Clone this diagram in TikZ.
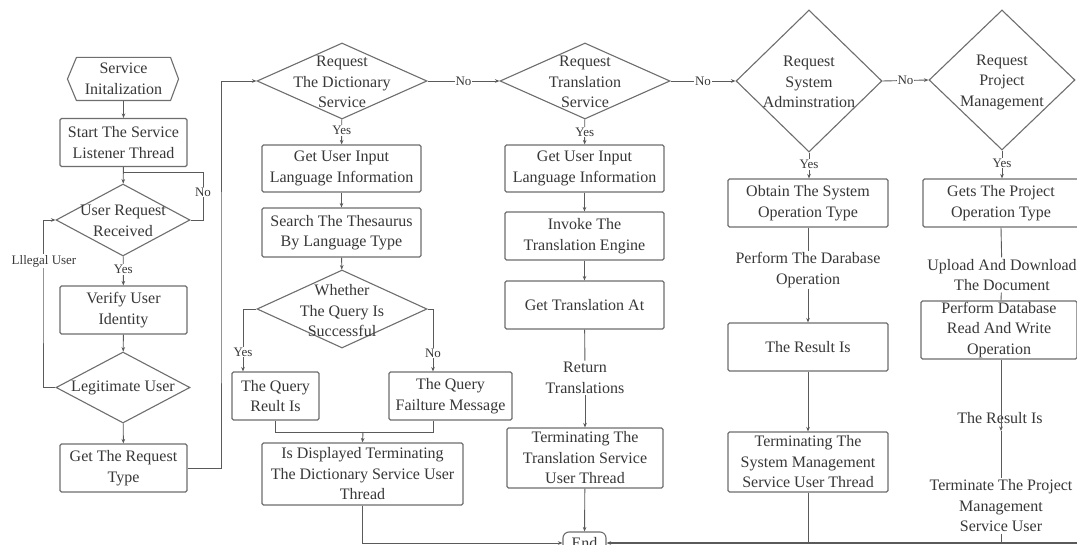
\documentclass[tikz,border=0pt]{standalone}
\usepackage{fontspec}
\setmainfont{Liberation Serif}
\usetikzlibrary{shapes.geometric,arrows.meta}

\definecolor{inkline}{HTML}{5A5A5A}
\definecolor{inkbox}{HTML}{6E6E6E}
\definecolor{inktext}{HTML}{383838}

\tikzset{
  ln/.style={draw=inkline, line width=0.9pt},
  arr/.style={ln, -{Stealth[length=4.5pt,width=3.6pt]}},
  box/.style={draw=inkbox, line width=1.1pt, rounded corners=1.5pt, align=center,
              inner sep=0pt, text=inktext},
  dia/.style={diamond, draw=inkbox, line width=1.1pt, inner sep=0pt},
  txt/.style={align=center, text=inktext, inner sep=1.5pt},
  lbl/.style={font=\fontsize{13pt}{15pt}\selectfont, fill=white, inner sep=1pt, text=inktext},
}

\begin{document}
\begin{tikzpicture}[x=1pt, y=-1pt, font=\fontsize{16pt}{20.5pt}\selectfont]
\useasboundingbox (0,0) rectangle (1077,545);
\clip (0,0) rectangle (1077,545);
\fill[white] (0,0) rectangle (1077,545);

% ---------- column 1: start-up and user check ----------
\node[box, draw=none, minimum width=93pt, minimum height=42pt] (init) at (123.5,79) {Service\\Initalization};
\draw[draw=inkbox, line width=1.1pt, line join=round]
  (init.north west) -- (init.north east) -- ([xshift=8pt]init.east) -- (init.south east)
  -- (init.south west) -- ([xshift=-9pt]init.west) -- cycle;
\node[box, minimum width=127pt, minimum height=48pt] (start) at (123.5,142.5) {Start The Service\\Listener Thread};
\node[dia, minimum width=134pt, minimum height=72pt] (ur) at (123,220) {};
\node[txt] (urt) at (123,221) {User Request\\Received};
\node[box, minimum width=127pt, minimum height=48pt] (verify) at (123.5,310) {Verify User\\Identity};
\node[dia, minimum width=134pt, minimum height=71pt] (legit) at (123,387.5) {};
\node[txt] (legitt) at (123,387.5) {Legitimate User};
\node[box, minimum width=127pt, minimum height=48pt] (getreq) at (123.5,468) {Get The Request\\Type};

% ---------- column 2: dictionary service ----------
\node[dia, minimum width=170pt, minimum height=76pt] (dict) at (342,81) {};
\node[txt] (dictt) at (342,82) {Request\\The Dictionary\\Service};
\node[box, minimum width=159pt, minimum height=47pt] (ui1) at (341.5,168.5) {Get User Input\\Language Information};
\node[box, minimum width=159pt, minimum height=49pt] (search) at (341.5,232.5) {Search The Thesaurus\\By Language Type};
\node[dia, minimum width=170pt, minimum height=78pt] (query) at (342,309) {};
\node[txt] (queryt) at (342,311) {Whether\\The Query Is\\Successful};
\node[box, minimum width=87pt, minimum height=48pt] (qres) at (275.5,396) {The Query\\Reult Is};
\node[box, minimum width=123pt, minimum height=48pt] (qfail) at (450.5,396) {The Query\\Failture Message};
\node[box, minimum width=201pt, minimum height=62pt] (disp) at (362.5,474) {Is Displayed Terminating\\The Dictionary Service User\\Thread};

% ---------- column 3: translation service ----------
\node[dia, minimum width=170pt, minimum height=76pt] (trans) at (585,81) {};
\node[txt] (transt) at (585,82) {Request\\Translation\\Service};
\node[box, minimum width=159pt, minimum height=47pt] (ui2) at (584.5,168.5) {Get User Input\\Language Information};
\node[box, minimum width=159pt, minimum height=48pt] (invoke) at (584.5,236) {Invoke The\\Translation Engine};
\node[box, minimum width=159pt, minimum height=48pt] (getta) at (584.5,305) {Get Translation At};
\node[txt] (rettxt) at (585,378) {Return\\Translations};
\node[box, minimum width=156pt, minimum height=60pt] (termtr) at (585,458) {Terminating The\\Translation Service\\User Thread};
\node[box, rounded corners=6pt, minimum width=43pt, minimum height=22pt] (end) at (584.5,543) {End};

% ---------- column 4: system administration ----------
\node[dia, minimum width=146pt, minimum height=142pt] (sys) at (809,81) {};
\node[txt] (syst) at (809,82) {Request\\System\\Adminstration};
\node[box, minimum width=160pt, minimum height=48pt] (obtain) at (808,203) {Obtain The System\\Operation Type};
\node[txt] (perfdb) at (808,270) {Perform The Darabase\\Operation};
\node[box, minimum width=160pt, minimum height=48pt] (res4) at (808,347) {The Result Is};
\node[box, minimum width=160pt, minimum height=60pt] (termsys) at (808,462) {Terminating The\\System Management\\Service User Thread};

% ---------- column 5: project management ----------
\node[dia, minimum width=146pt, minimum height=140pt] (proj) at (1002,80) {};
\node[txt] (projt) at (1002,82) {Request\\Project\\Management};
\node[box, minimum width=156pt, minimum height=48pt] (gets) at (1001,203) {Gets The Project\\Operation Type};
\node[txt] (upload) at (1002,275) {Upload And Download\\The Document};
\node[box, minimum width=156pt, minimum height=58pt] (perfrw) at (999,330) {Perform Database\\Read And Write\\Operation};
\node[txt] (resulttxt) at (1000,418) {The Result Is};
\node[txt] (termproj) at (1001,506) {Terminate The Project\\Management\\Service User};

% ---------- bend points ----------
\coordinate (urjoin) at (123.5,172);
\coordinate (urloop) at (203,172);
\coordinate (illx) at (43,300);
\coordinate (upx) at (221,300);
\coordinate (yesx) at (243,340);
\coordinate (nox) at (433,340);
\coordinate (merge) at (363,432);
\coordinate (rarrow) at (1001,431);
\coordinate (redge) at (1080,543);

% ---------- connectors, column 1 ----------
\draw[arr] (init) -- (start);
\draw[arr] (start) -- (ur);
\draw[ln] (ur.east) -| (urloop) -- (urjoin);
\node[lbl] (nolbl0) at (203,192) {No};
\draw[arr] (ur) -- node[lbl, pos=0.45] (yeslbl0) {Yes} (verify);
\draw[arr] (verify) -- (legit);
\draw[arr] (legit.west) -| (illx) |- (ur.west);
\node[lbl] (illlbl) at (44,261) {Lllegal User};
\draw[arr] (legit) -- (getreq);
\draw[arr] (getreq.east) -| (upx) |- (dict.west);

% ---------- connectors, column 2 ----------
\draw[arr] (dict) -- node[lbl, pos=0.45] (yeslbl1) {Yes} (ui1);
\draw[arr] (ui1) -- (search);
\draw[arr] (search) -- (query);
\draw[arr] (query.west) -| (qres.north -| yesx);
\node[lbl] (yeslbl2) at (243,352) {Yes};
\draw[arr] (query.east) -| (qfail.north -| nox);
\node[lbl] (nolbl2) at (433,353) {No};
\draw[ln] (qres.south) |- (merge);
\draw[ln] (qfail.south -| nox) |- (merge);
\draw[arr] (merge) -- (disp.north);
\draw[arr] (disp.south) |- (end.west);

% ---------- connectors, column 3 ----------
\draw[arr] (dict.east) -- node[lbl] (nolbl1) {No} (trans.west);
\draw[arr] (trans) -- node[lbl, pos=0.5] (yeslbl3) {Yes} (ui2);
\draw[arr] (ui2) -- (invoke);
\draw[arr] (invoke) -- (getta);
\draw[ln] (getta) -- (rettxt);
\draw[arr] (rettxt) -- (termtr);
\draw[arr] (termtr) -- (end);

% ---------- connectors, column 4 ----------
\draw[arr] (trans.east) -- node[lbl] (nolbl3) {No} (sys.west);
\draw[arr] (sys.south) -- node[lbl, pos=0.45] (yeslbl4) {Yes} (sys.south |- obtain.north);
\draw[ln] (obtain) -- (perfdb);
\draw[arr] (perfdb) -- (res4);
\draw[arr] (res4) -- (termsys);
\draw[ln] (termsys.south) -- (termsys.south |- end.east);

% ---------- connectors, column 5 ----------
\draw[arr] (sys.east) -- node[lbl] (nolbl4) {No} (proj.west);
\draw[arr] (proj.south) -- node[lbl, pos=0.45] (yeslbl5) {Yes} (proj.south |- gets.north);
\draw[ln] (gets.south -| rarrow) -- (upload);
\draw[ln] (upload) -- (perfrw.north -| rarrow);
\draw[arr] (perfrw.south -| rarrow) -- (rarrow);
\draw[ln] (rarrow) -- (termproj.north -| rarrow);
\draw[ln] (termproj.south -| rarrow) -- (rarrow |- end.east);
\draw[arr, line width=1.5pt] (redge) -- (end.east);
\end{tikzpicture}
\end{document}
